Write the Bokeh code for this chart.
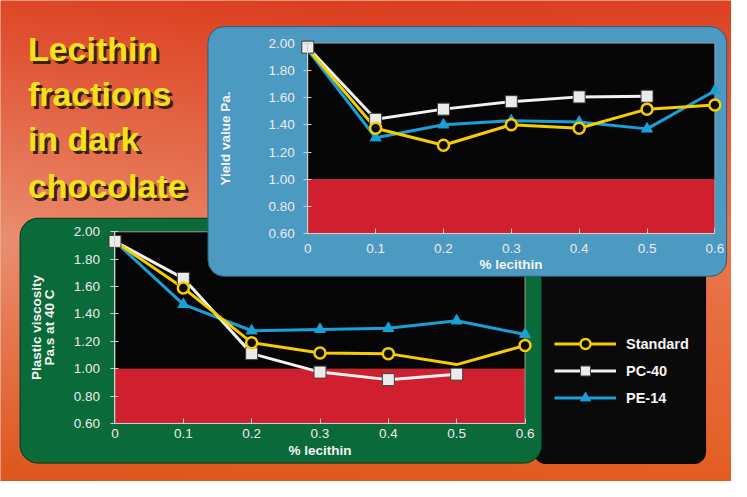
import numpy as np
from bokeh.plotting import figure
from bokeh.models import (Range1d, LinearAxis, FixedTicker, BoxAnnotation, Label, Legend,
                          LegendItem, ColumnDataSource, CDSView, IndexFilter, PrintfTickFormatter)
from bokeh.embed import file_html
from bokeh.resources import INLINE

# ---------------- data ----------------
lecithin = [0, 0.1, 0.2, 0.3, 0.4, 0.5, 0.6]
x_tick_labels = ["0", "0.1", "0.2", "0.3", "0.4", "0.5", "0.6"]
y_ticks = [0.6, 0.8, 1.0, 1.2, 1.4, 1.6, 1.8, 2.0]
series_names = ["Standard", "PC-40", "PE-14"]

yield_standard = [1.96, 1.375, 1.25, 1.40, 1.375, 1.515, 1.545]
yield_pc40 = [1.97, 1.44, 1.515, 1.57, 1.605, 1.61]
yield_pe14 = [1.95, 1.305, 1.40, 1.43, 1.42, 1.37, 1.65]

visc_standard = [1.93, 1.59, 1.19, 1.115, 1.11, 1.03, 1.17]
visc_pc40 = [1.93, 1.66, 1.11, 0.975, 0.92, 0.96]
visc_pe14 = [1.93, 1.47, 1.277, 1.287, 1.295, 1.35, 1.25]

red_zone = [0.6, 1.0]
y_bounds = [0.6, 2.0]
x_bounds = [0, 0.6]

title_lines = ["Lecithin", "fractions", "in dark", "chocolate"]
yield_label = "Yield value Pa."
visc_label = "Plastic viscosity\nPa.s at 40 C"
x_label = "% lecithin"

# ---------------- style ----------------
YELLOW = "#f7cc00"
WHITE = "#f2f2f2"
BLUE = "#1aa0d8"
BLUE_PANEL = "#4c99c2"
GREEN_PANEL = "#0b6a3a"
RED = "#d01f2f"
BLACK = "#060606"
AXIS_GREY = "#cfcfcf"
FONT = "Liberation Sans"

W, H = 731, 481
FX = (0, 747)          # reference picture coordinates spread over the canvas
FY = (0, 497)

p = figure(width=W, height=H, x_range=Range1d(FX[0], FX[1]), y_range=Range1d(FY[1], FY[0]),
           output_backend="svg", toolbar_location=None, min_border=0,
           x_axis_type=None, y_axis_type=None)
p.outline_line_color = None
p.border_fill_color = "#e06a3a"
p.background_fill_color = "#e06a3a"


def x_range_for(p0, p1, d0=0.0, d1=0.6):
    s = (d1 - d0) / (p1 - p0)
    return Range1d(start=d0 + (FX[0] - p0) * s, end=d0 + (FX[1] - p0) * s)


def y_range_for(p_top, p_bot, d_top=2.0, d_bot=0.6):
    s = (d_top - d_bot) / (p_bot - p_top)
    return Range1d(start=d_bot - (FY[1] - p_bot) * s, end=d_top + (p_top - FY[0]) * s)


p.extra_x_ranges = {"x1": x_range_for(314, 730), "x2": x_range_for(117, 536)}
p.extra_y_ranges = {"y1": y_range_for(44, 241), "y2": y_range_for(239, 437)}

# ---------------- background gradient ----------------
ctrl = np.array([
    [[222, 86, 30], [226, 90, 30], [228, 94, 36]],
    [[234, 142, 112], [232, 122, 84], [234, 118, 78]],
    [[222, 72, 40], [220, 62, 32], [222, 66, 36]],
], dtype=float)
GH, GW = 60, 90
gx = np.linspace(0, 1, GW)
gy = np.linspace(0, 1, GH)
img = np.empty((GH, GW), dtype=np.uint32)
view = img.view(dtype=np.uint8).reshape((GH, GW, 4))
for c in range(3):
    rows = np.array([np.interp(gx, [0, 0.5, 1], ctrl[r, :, c]) for r in range(3)])
    full = np.array([np.interp(gy, [0, 0.5, 1], rows[:, i]) for i in range(GW)]).T
    view[:, :, c] = full.astype(np.uint8)
view[:, :, 3] = 255
p.image_rgba(image=[img[::-1]], x=(FX[0] + FX[1]) / 2, y=(FY[0] + FY[1]) / 2,
             dw=FX[1] - FX[0], dh=FY[1] - FY[0], anchor="center", level="image")


def box(l, r, t, b, color, radius=0, xr="default", yr="default", line=None, lw=1):
    bx = BoxAnnotation(left=l, right=r, top=t, bottom=b,
                       fill_color=color, fill_alpha=1 if color else 0,
                       line_color=line, line_alpha=1, line_width=lw,
                       border_radius=radius, level="underlay",
                       x_range_name=xr, y_range_name=yr)
    p.add_layout(bx)
    return bx


# legend black panel
box(545, 721, 270, 479, "#0a0a0a", radius=12)
# green panel + chart 2 area
box(20, 553, 225, 478, GREEN_PANEL, radius=18, line="#06351d", lw=1)
box(x_bounds[0], x_bounds[1], y_bounds[1], red_zone[1], BLACK, xr="x2", yr="y2")
box(x_bounds[0], x_bounds[1], red_zone[1], red_zone[0], RED, xr="x2", yr="y2")
box(x_bounds[0], x_bounds[1], y_bounds[1], y_bounds[0], None, xr="x2", yr="y2", line="#9a9a9a")
# blue panel + chart 1 area
box(212, 742, 27, 285, BLUE_PANEL, radius=16, line="#2c5c78", lw=1)
box(x_bounds[0], x_bounds[1], y_bounds[1], red_zone[1], BLACK, xr="x1", yr="y1")
box(x_bounds[0], x_bounds[1], red_zone[1], red_zone[0], RED, xr="x1", yr="y1")
box(x_bounds[0], x_bounds[1], y_bounds[1], y_bounds[0], None, xr="x1", yr="y1", line="#9a9a9a")


def draw_chart(xr, yr, std, pc, pe, circle_idx):
    kw = dict(x_range_name=xr, y_range_name=yr)
    r_pe_l = p.line(lecithin[:len(pe)], pe, line_color=BLUE, line_width=3, **kw)
    r_pc_l = p.line(lecithin[:len(pc)], pc, line_color=WHITE, line_width=3, **kw)
    r_std_l = p.line(lecithin[:len(std)], std, line_color=YELLOW, line_width=3, **kw)
    r_pe_m = p.scatter(lecithin[:len(pe)], pe, marker="triangle", size=11,
                       fill_color=BLUE, line_color=BLUE, **kw)
    r_pc_m = p.scatter(lecithin[:len(pc)], pc, marker="square", size=12,
                       fill_color="#ebebeb", line_color="#3c3c3c", line_width=1, **kw)
    src = ColumnDataSource(dict(x=lecithin[:len(std)], y=std))
    r_std_m = p.scatter("x", "y", source=src, view=CDSView(filter=IndexFilter(circle_idx)),
                        marker="circle", size=11, fill_color="#0a0a0a",
                        line_color=YELLOW, line_width=2.5, **kw)

    xa = LinearAxis(x_range_name=xr, y_range_name=yr, fixed_location=y_bounds[0],
                    bounds=tuple(x_bounds), ticker=FixedTicker(ticks=lecithin),
                    major_label_overrides={t: l for t, l in zip(lecithin, x_tick_labels)})
    ya = LinearAxis(x_range_name=xr, y_range_name=yr, fixed_location=x_bounds[0],
                    bounds=tuple(y_bounds), ticker=FixedTicker(ticks=y_ticks),
                    formatter=PrintfTickFormatter(format="%.2f"))
    for a in (xa, ya):
        a.axis_line_color = AXIS_GREY
        a.major_tick_line_color = AXIS_GREY
        a.minor_tick_line_color = None
        a.major_label_text_color = "#ececec"
        a.major_label_text_font = FONT
        a.major_label_text_font_size = "13.5px"
        a.axis_label_text_color = "#f4f4f4"
        a.axis_label_text_font = FONT
        a.axis_label_text_font_size = "13.5px"
        a.axis_label_text_font_style = "bold"
    xa.major_tick_in = 5
    xa.major_tick_out = 0
    ya.major_tick_in = 4
    ya.major_tick_out = 4
    xa.axis_label = x_label
    p.add_layout(xa, "below")
    p.add_layout(ya, "left")
    return xa, ya, (r_std_l, r_std_m), (r_pc_l, r_pc_m), (r_pe_l, r_pe_m)


xa2, ya2, s2, c2, e2 = draw_chart("x2", "y2", visc_standard, visc_pc40, visc_pe14, [1, 2, 3, 4, 6])
xa1, ya1, s1, c1, e1 = draw_chart("x1", "y1", yield_standard, yield_pc40, yield_pe14, [1, 2, 3, 4, 5, 6])

xa1.major_label_standoff = 10
xa1.axis_label_standoff = 1
ya1.major_label_standoff = 9
ya1.axis_label = yield_label
ya1.axis_label_standoff = 32

xa2.major_label_standoff = 6
xa2.axis_label_standoff = 1
ya2.major_label_standoff = 11
ya2.axis_label = visc_label
ya2.axis_label_standoff = 13
ya2.axis_label_text_line_height = 0.9

# legend (location is in screen pixels: left edge, bottom edge from the frame bottom)
legend = Legend(items=[LegendItem(label=n, renderers=list(r)) for n, r in zip(series_names, (s2, c2, e2))],
                location=(554, 71), orientation="vertical",
                glyph_width=62, glyph_height=25, label_height=25, spacing=2,
                label_standoff=10, padding=0, margin=0,
                background_fill_alpha=0, border_line_color=None,
                label_text_color="#f4f4f4", label_text_font=FONT,
                label_text_font_size="14.5px", label_text_font_style="bold")
p.add_layout(legend)

# title with drop shadow
baselines = [50, 97, 143, 192]
for txt, yb in zip(title_lines, baselines):
    p.add_layout(Label(x=31, y=yb + 3, text=txt, text_font=FONT, text_font_size="34px",
                       text_font_style="bold", text_color="#3a2010", text_baseline="alphabetic"))
    p.add_layout(Label(x=28, y=yb, text=txt, text_font=FONT, text_font_size="34px",
                       text_font_style="bold", text_color="#f3e21a", text_baseline="alphabetic"))

open("out.html", "w").write(file_html(p, INLINE))
